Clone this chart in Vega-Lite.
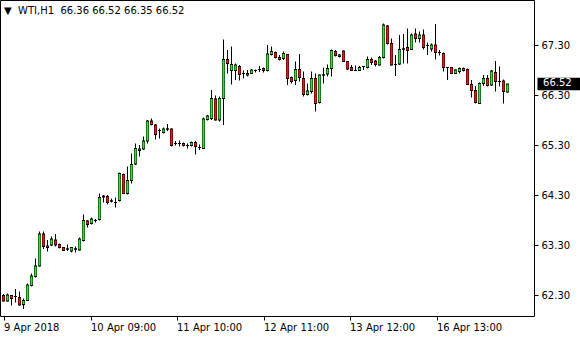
{
  "$schema": "https://vega.github.io/schema/vega-lite/v6.json",
  "autosize": {"type": "none"},
  "padding": {"left": 0, "top": 0, "right": 46, "bottom": 24},
  "width": 534,
  "height": 316,
  "background": "white",
  "title": {
    "text": "▼\u00a0\u00a0WTI,H1\u00a0\u00a066.36 66.52 66.35 66.52",
    "anchor": "start",
    "frame": "group",
    "offset": -16,
    "dx": 4,
    "font": "DejaVu Sans",
    "fontSize": 10,
    "fontWeight": "normal",
    "color": "black"
  },
  "config": {
    "view": {"stroke": "black", "strokeWidth": 1},
    "axis": {
      "labelFont": "DejaVu Sans",
      "labelFontSize": 10,
      "labelColor": "black",
      "tickColor": "black",
      "tickSize": 4,
      "grid": false,
      "domain": false,
      "title": null
    }
  },
  "data": {
    "values": [
      {"i": 0, "o": 62.29, "h": 62.32, "l": 62.17, "c": 62.18},
      {"i": 1, "o": 62.18, "h": 62.33, "l": 62.17, "c": 62.30},
      {"i": 2, "o": 62.29, "h": 62.30, "l": 62.09, "c": 62.23},
      {"i": 3, "o": 62.27, "h": 62.42, "l": 62.15, "c": 62.27},
      {"i": 4, "o": 62.25, "h": 62.37, "l": 62.09, "c": 62.10},
      {"i": 5, "o": 62.11, "h": 62.23, "l": 62.02, "c": 62.19},
      {"i": 6, "o": 62.19, "h": 62.53, "l": 62.18, "c": 62.50},
      {"i": 7, "o": 62.49, "h": 62.73, "l": 62.47, "c": 62.68},
      {"i": 8, "o": 62.67, "h": 63.03, "l": 62.65, "c": 62.88},
      {"i": 9, "o": 62.88, "h": 63.57, "l": 62.87, "c": 63.52},
      {"i": 10, "o": 63.52, "h": 63.57, "l": 63.22, "c": 63.27},
      {"i": 11, "o": 63.25, "h": 63.40, "l": 63.17, "c": 63.28},
      {"i": 12, "o": 63.30, "h": 63.47, "l": 63.28, "c": 63.42},
      {"i": 13, "o": 63.40, "h": 63.52, "l": 63.27, "c": 63.30},
      {"i": 14, "o": 63.31, "h": 63.33, "l": 63.23, "c": 63.25},
      {"i": 15, "o": 63.25, "h": 63.25, "l": 63.19, "c": 63.19},
      {"i": 16, "o": 63.22, "h": 63.31, "l": 63.18, "c": 63.22},
      {"i": 17, "o": 63.18, "h": 63.25, "l": 63.15, "c": 63.25},
      {"i": 18, "o": 63.22, "h": 63.27, "l": 63.15, "c": 63.22},
      {"i": 19, "o": 63.20, "h": 63.45, "l": 63.19, "c": 63.42},
      {"i": 20, "o": 63.39, "h": 63.91, "l": 63.37, "c": 63.79},
      {"i": 21, "o": 63.78, "h": 63.80, "l": 63.65, "c": 63.71},
      {"i": 22, "o": 63.73, "h": 63.85, "l": 63.71, "c": 63.82},
      {"i": 23, "o": 63.79, "h": 63.82, "l": 63.75, "c": 63.79},
      {"i": 24, "o": 63.81, "h": 64.33, "l": 63.79, "c": 64.25},
      {"i": 25, "o": 64.28, "h": 64.30, "l": 64.15, "c": 64.26},
      {"i": 26, "o": 64.27, "h": 64.30, "l": 64.11, "c": 64.15},
      {"i": 27, "o": 64.18, "h": 64.23, "l": 64.15, "c": 64.18},
      {"i": 28, "o": 64.15, "h": 64.25, "l": 64.05, "c": 64.15},
      {"i": 29, "o": 64.19, "h": 64.75, "l": 64.17, "c": 64.73},
      {"i": 30, "o": 64.71, "h": 64.73, "l": 64.32, "c": 64.33},
      {"i": 31, "o": 64.33, "h": 64.87, "l": 64.31, "c": 64.59},
      {"i": 32, "o": 64.59, "h": 65.13, "l": 64.53, "c": 64.91},
      {"i": 33, "o": 64.92, "h": 65.33, "l": 64.90, "c": 65.23},
      {"i": 34, "o": 65.19, "h": 65.30, "l": 65.07, "c": 65.22},
      {"i": 35, "o": 65.22, "h": 65.47, "l": 65.20, "c": 65.38},
      {"i": 36, "o": 65.38, "h": 65.80, "l": 65.33, "c": 65.78},
      {"i": 37, "o": 65.78, "h": 65.83, "l": 65.69, "c": 65.71},
      {"i": 38, "o": 65.70, "h": 65.72, "l": 65.41, "c": 65.51},
      {"i": 39, "o": 65.59, "h": 65.63, "l": 65.43, "c": 65.59},
      {"i": 40, "o": 65.55, "h": 65.65, "l": 65.53, "c": 65.62},
      {"i": 41, "o": 65.62, "h": 65.72, "l": 65.58, "c": 65.62},
      {"i": 42, "o": 65.62, "h": 65.63, "l": 65.27, "c": 65.29},
      {"i": 43, "o": 65.33, "h": 65.38, "l": 65.29, "c": 65.33},
      {"i": 44, "o": 65.33, "h": 65.39, "l": 65.27, "c": 65.33},
      {"i": 45, "o": 65.33, "h": 65.35, "l": 65.27, "c": 65.29},
      {"i": 46, "o": 65.29, "h": 65.33, "l": 65.23, "c": 65.29},
      {"i": 47, "o": 65.29, "h": 65.37, "l": 65.27, "c": 65.35},
      {"i": 48, "o": 65.35, "h": 65.38, "l": 65.11, "c": 65.27},
      {"i": 49, "o": 65.25, "h": 65.31, "l": 65.20, "c": 65.25},
      {"i": 50, "o": 65.23, "h": 65.85, "l": 65.22, "c": 65.82},
      {"i": 51, "o": 65.81, "h": 65.90, "l": 65.79, "c": 65.88},
      {"i": 52, "o": 65.83, "h": 66.40, "l": 65.80, "c": 66.23},
      {"i": 53, "o": 66.22, "h": 66.29, "l": 65.79, "c": 65.80},
      {"i": 54, "o": 65.80, "h": 66.27, "l": 65.77, "c": 66.23},
      {"i": 55, "o": 66.23, "h": 67.41, "l": 65.70, "c": 67.01},
      {"i": 56, "o": 67.01, "h": 67.20, "l": 66.73, "c": 66.93},
      {"i": 57, "o": 66.79, "h": 67.27, "l": 66.51, "c": 66.91},
      {"i": 58, "o": 66.79, "h": 66.93, "l": 66.60, "c": 66.90},
      {"i": 59, "o": 66.87, "h": 66.90, "l": 66.59, "c": 66.71},
      {"i": 60, "o": 66.73, "h": 66.79, "l": 66.63, "c": 66.73},
      {"i": 61, "o": 66.70, "h": 66.80, "l": 66.67, "c": 66.73},
      {"i": 62, "o": 66.73, "h": 66.82, "l": 66.72, "c": 66.80},
      {"i": 63, "o": 66.79, "h": 66.81, "l": 66.75, "c": 66.79},
      {"i": 64, "o": 66.81, "h": 66.88, "l": 66.76, "c": 66.81},
      {"i": 65, "o": 66.83, "h": 66.85, "l": 66.75, "c": 66.79},
      {"i": 66, "o": 66.79, "h": 67.30, "l": 66.77, "c": 67.12},
      {"i": 67, "o": 67.11, "h": 67.27, "l": 67.09, "c": 67.17},
      {"i": 68, "o": 67.15, "h": 67.17, "l": 67.03, "c": 67.05},
      {"i": 69, "o": 67.05, "h": 67.10, "l": 66.99, "c": 67.01},
      {"i": 70, "o": 67.03, "h": 67.17, "l": 67.00, "c": 67.13},
      {"i": 71, "o": 67.11, "h": 67.12, "l": 66.50, "c": 66.63},
      {"i": 72, "o": 66.65, "h": 66.67, "l": 66.53, "c": 66.57},
      {"i": 73, "o": 66.59, "h": 66.97, "l": 66.50, "c": 66.81},
      {"i": 74, "o": 66.81, "h": 67.12, "l": 66.57, "c": 66.65},
      {"i": 75, "o": 66.63, "h": 66.77, "l": 66.27, "c": 66.31},
      {"i": 76, "o": 66.31, "h": 66.53, "l": 66.29, "c": 66.38},
      {"i": 77, "o": 66.37, "h": 66.77, "l": 66.33, "c": 66.63},
      {"i": 78, "o": 66.63, "h": 66.73, "l": 65.97, "c": 66.13},
      {"i": 79, "o": 66.15, "h": 66.71, "l": 66.13, "c": 66.70},
      {"i": 80, "o": 66.70, "h": 66.85, "l": 66.53, "c": 66.70},
      {"i": 81, "o": 66.72, "h": 66.91, "l": 66.67, "c": 66.83},
      {"i": 82, "o": 66.83, "h": 67.21, "l": 66.67, "c": 67.19},
      {"i": 83, "o": 67.17, "h": 67.20, "l": 67.07, "c": 67.09},
      {"i": 84, "o": 67.07, "h": 67.12, "l": 67.05, "c": 67.10},
      {"i": 85, "o": 67.18, "h": 67.19, "l": 66.97, "c": 66.97},
      {"i": 86, "o": 66.97, "h": 66.98, "l": 66.80, "c": 66.82},
      {"i": 87, "o": 66.85, "h": 66.90, "l": 66.78, "c": 66.79},
      {"i": 88, "o": 66.79, "h": 66.89, "l": 66.78, "c": 66.79},
      {"i": 89, "o": 66.79, "h": 66.88, "l": 66.78, "c": 66.85},
      {"i": 90, "o": 66.87, "h": 66.88, "l": 66.80, "c": 66.87},
      {"i": 91, "o": 66.85, "h": 67.07, "l": 66.83, "c": 67.01},
      {"i": 92, "o": 67.01, "h": 67.05, "l": 66.90, "c": 66.95},
      {"i": 93, "o": 66.98, "h": 67.00, "l": 66.87, "c": 66.91},
      {"i": 94, "o": 66.90, "h": 67.08, "l": 66.89, "c": 67.05},
      {"i": 95, "o": 67.05, "h": 67.73, "l": 67.03, "c": 67.70},
      {"i": 96, "o": 67.68, "h": 67.70, "l": 67.31, "c": 67.33},
      {"i": 97, "o": 67.33, "h": 67.43, "l": 66.89, "c": 66.90},
      {"i": 98, "o": 66.91, "h": 67.10, "l": 66.68, "c": 66.91},
      {"i": 99, "o": 66.92, "h": 67.50, "l": 66.90, "c": 67.21},
      {"i": 100, "o": 67.22, "h": 67.52, "l": 66.93, "c": 67.22},
      {"i": 101, "o": 67.25, "h": 67.63, "l": 66.93, "c": 67.19},
      {"i": 102, "o": 67.21, "h": 67.53, "l": 67.20, "c": 67.50},
      {"i": 103, "o": 67.52, "h": 67.63, "l": 67.35, "c": 67.43},
      {"i": 104, "o": 67.43, "h": 67.57, "l": 67.35, "c": 67.50},
      {"i": 105, "o": 67.50, "h": 67.61, "l": 67.21, "c": 67.25},
      {"i": 106, "o": 67.29, "h": 67.35, "l": 67.10, "c": 67.29},
      {"i": 107, "o": 67.22, "h": 67.33, "l": 67.17, "c": 67.30},
      {"i": 108, "o": 67.30, "h": 67.72, "l": 67.01, "c": 67.15},
      {"i": 109, "o": 67.15, "h": 67.20, "l": 67.09, "c": 67.15},
      {"i": 110, "o": 67.13, "h": 67.15, "l": 66.77, "c": 66.85},
      {"i": 111, "o": 66.85, "h": 66.85, "l": 66.60, "c": 66.85},
      {"i": 112, "o": 66.85, "h": 66.85, "l": 66.72, "c": 66.73},
      {"i": 113, "o": 66.73, "h": 66.81, "l": 66.72, "c": 66.80},
      {"i": 114, "o": 66.77, "h": 66.85, "l": 66.73, "c": 66.83},
      {"i": 115, "o": 66.83, "h": 66.85, "l": 66.77, "c": 66.79},
      {"i": 116, "o": 66.81, "h": 66.83, "l": 66.50, "c": 66.51},
      {"i": 117, "o": 66.51, "h": 66.60, "l": 66.25, "c": 66.39},
      {"i": 118, "o": 66.39, "h": 66.48, "l": 66.13, "c": 66.15},
      {"i": 119, "o": 66.13, "h": 66.55, "l": 66.12, "c": 66.53},
      {"i": 120, "o": 66.53, "h": 66.70, "l": 66.48, "c": 66.63},
      {"i": 121, "o": 66.63, "h": 66.70, "l": 66.47, "c": 66.49},
      {"i": 122, "o": 66.50, "h": 66.80, "l": 66.48, "c": 66.78},
      {"i": 123, "o": 66.75, "h": 66.98, "l": 66.37, "c": 66.57},
      {"i": 124, "o": 66.57, "h": 66.87, "l": 66.47, "c": 66.57},
      {"i": 125, "o": 66.58, "h": 66.61, "l": 66.13, "c": 66.37},
      {"i": 126, "o": 66.36, "h": 66.52, "l": 66.35, "c": 66.52}
    ]
  },
  "encoding": {
    "x": {
      "field": "i",
      "type": "quantitative",
      "scale": {"domain": [-0.875, 132.625], "nice": false, "zero": false, "padding": 0},
      "axis": {
        "orient": "bottom",
        "values": [0, 21.75, 43.25, 65, 86.5, 108.25],
        "labelExpr": "datum.value == 0 ? '9 Apr 2018' : datum.value == 21.75 ? '10 Apr 09:00' : datum.value == 43.25 ? '11 Apr 10:00' : datum.value == 65 ? '12 Apr 11:00' : datum.value == 86.5 ? '13 Apr 12:00' : '16 Apr 13:00'",
        "labelAlign": "left",
        "labelOffset": 0,
        "labelPadding": 2,
        "labelFlush": false,
        "labelOverlap": false
      }
    },
    "y": {
      "type": "quantitative",
      "scale": {"domain": [61.88, 68.2], "nice": false, "zero": false, "padding": 0},
      "axis": {
        "orient": "right",
        "values": [62.3, 63.3, 64.3, 65.3, 66.3, 67.3],
        "format": ".2f",
        "labelPadding": 3,
        "labelBaseline": "middle"
      }
    }
  },
  "layer": [
    {
      "mark": {"type": "rule", "color": "black", "strokeWidth": 1},
      "encoding": {
        "y": {"field": "l", "type": "quantitative"},
        "y2": {"field": "h"}
      }
    },
    {
      "mark": {"type": "rule", "color": "black", "strokeWidth": 3, "strokeCap": "butt"},
      "encoding": {
        "y": {"field": "o", "type": "quantitative"},
        "y2": {"field": "c"}
      }
    },
    {
      "mark": {"type": "rule", "strokeWidth": 2, "strokeCap": "butt", "opacity": 1},
      "encoding": {
        "y": {"field": "o", "type": "quantitative"},
        "y2": {"field": "c"},
        "color": {
          "condition": {"test": "datum.c >= datum.o", "value": "#2ee82e"},
          "value": "#ff1010"
        }
      }
    },
    {
      "mark": {"type": "tick", "orient": "horizontal", "size": 3, "thickness": 1, "color": "black", "opacity": 1},
      "encoding": {
        "y": {"field": "o", "type": "quantitative"}
      }
    },
    {
      "mark": {"type": "tick", "orient": "horizontal", "size": 3, "thickness": 1, "color": "black", "opacity": 1},
      "encoding": {
        "y": {"field": "c", "type": "quantitative"}
      }
    },
    {
      "mark": {"type": "point", "filled": true, "shape": "M-1,-0.29L1,-0.29L1,0.29L-1,0.29Z", "size": 1849, "color": "black"},
      "encoding": {
        "x": {"datum": 138.875, "type": "quantitative"},
        "y": {"field": "c", "type": "quantitative"},
        "opacity": {"condition": {"test": "datum.i == 126", "value": 1}, "value": 0}
      }
    },
    {
      "mark": {"type": "text", "color": "white", "align": "left", "baseline": "middle", "font": "DejaVu Sans", "fontSize": 10, "dy": -1},
      "encoding": {
        "x": {"datum": 134.9, "type": "quantitative"},
        "y": {"field": "c", "type": "quantitative"},
        "text": {"field": "c", "type": "quantitative", "format": ".2f"},
        "opacity": {"condition": {"test": "datum.i == 126", "value": 1}, "value": 0}
      }
    }
  ]
}
